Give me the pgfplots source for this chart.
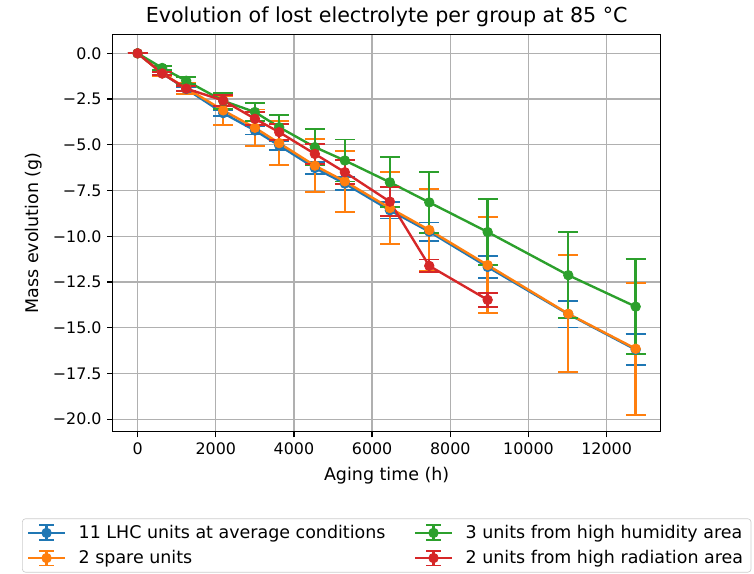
\documentclass[border=0pt]{standalone}
\usepackage{fontspec}
\setmainfont{DejaVu Sans}
\usepackage{pgfplots}
\usepackage{pgfplotstable}
\pgfplotsset{compat=1.18}
\definecolor{cblue}{HTML}{1F77B4}
\definecolor{corange}{HTML}{FF7F0E}
\definecolor{cgreen}{HTML}{2CA02C}
\definecolor{cred}{HTML}{D62728}
\definecolor{gridc}{HTML}{B0B0B0}
\definecolor{legc}{HTML}{CCCCCC}

\pgfplotstableread{
x      y       e
0      0       0
630   -1.10    0.06
1244  -1.95    0.10
2190  -3.27    0.17
3002  -4.22    0.22
3623  -5.04    0.27
4535  -6.27    0.32
5302  -7.12    0.37
6454  -8.58    0.45
7462  -9.75    0.50
8956  -11.68   0.61
11018 -14.26   0.73
12743 -16.20   0.84
}\bluedata
\pgfplotstableread{
x      y       e
0      0       0
630   -1.10    0.15
1244  -1.90    0.30
2190  -3.12    0.80
3002  -4.07    1.00
3623  -4.91    1.22
4535  -6.14    1.46
5302  -7.00    1.67
6454  -8.46    1.97
7462  -9.66    2.25
8956  -11.58   2.63
11018 -14.24   3.20
12743 -16.15   3.60
}\orangedata
\pgfplotstableread{
x      y       e
0      0       0
630   -0.80    0.10
1244  -1.50    0.20
2190  -2.60    0.45
3002  -3.21    0.50
3623  -4.04    0.68
4535  -5.13    0.97
5302  -5.86    1.15
6454  -7.05    1.37
7462  -8.15    1.65
8956  -9.77    1.80
11018 -12.13   2.34
12743 -13.85   2.60
}\greendata
\pgfplotstableread{
x      y       e
0      0       0
630   -1.10    0.10
1244  -1.93    0.15
2190  -2.58    0.30
3002  -3.58    0.35
3623  -4.31    0.45
4535  -5.50    0.55
5302  -6.50    0.65
6454  -8.11    0.80
7462  -11.62   0.35
8956  -13.48   0.40
}\reddata

\pgfplotsset{
  eblegend/.style={
    legend image code/.code={
      \draw[##1,mark=none,line width=1.5pt] (0pt,0pt) -- (23pt,0pt);
      \draw[##1,mark=none,line width=1.5pt] (11.5pt,-4.7pt) -- (11.5pt,4.7pt);
      \draw[##1,mark=none,line width=1.2pt] (6.8pt,-4.7pt) -- (16.2pt,-4.7pt) (6.8pt,4.7pt) -- (16.2pt,4.7pt);
      \draw[##1,only marks] plot coordinates {(11.5pt,0pt)};
    }
  },
  ebstyle/.style={
    eblegend,
    color=#1, mark=*, line width=1.5pt, mark size=3pt,
    mark options={solid, fill=#1, draw=#1, line width=0.5pt},
    error bars/.cd, y dir=both, y explicit,
    error bar style={line width=1.5pt, color=#1},
    error mark options={line width=1.2pt, mark size=6.3pt, color=#1, rotate=90},
    /pgfplots/.cd,
  },
}

\begin{document}
\begin{tikzpicture}
\useasboundingbox (-71pt,-89.6pt) rectangle (404pt,272pt);
\begin{axis}[
  at={(0,0)}, anchor=south west,
  scale only axis, width=345.2pt, height=250.4pt,
  xmin=-637, xmax=13382, ymin=-20.69, ymax=1.04,
  scaled x ticks=false, scaled y ticks=false,
  xtick={0,2000,4000,6000,8000,10000,12000},
  xticklabels={0,2000,4000,6000,8000,10000,12000},
  ytick={-20,-17.5,-15,-12.5,-10,-7.5,-5,-2.5,0},
  yticklabels={−20.0,−17.5,−15.0,−12.5,−10.0,−7.5,−5.0,−2.5,0.0},
  grid=major,
  grid style={color=gridc, line width=0.8pt},
  axis line style={line width=0.8pt},
  tick style={black, line width=0.8pt},
  tick align=outside, major tick length=3.5pt,
  tick pos=left,
  font=\fontsize{10}{12}\selectfont,
  ticklabel style={font=\fontsize{10}{12}\selectfont},
  title={Evolution of lost electrolyte per group at 85 °C},
  title style={font=\fontsize{13}{15}\selectfont, at={(0.5,1)}, anchor=base, yshift=1.4pt},
  xlabel={Aging time (h)},
  ylabel={Mass evolution (g)},
  label style={font=\fontsize{11}{13}\selectfont},
  xlabel style={yshift=-1pt},
  legend columns=2,
  transpose legend,
  legend cell align=left,
  legend style={at={(0.5,-0.218)}, anchor=north, draw=legc, rounded corners=2pt,
    font=\fontsize{11}{13}\selectfont, row sep=2pt,
    /tikz/every odd column/.append style={column sep=6pt},
    /tikz/every even column/.append style={column sep=16pt}},
]
\addplot[ebstyle=cblue] table[x=x, y=y, y error=e] {\bluedata};
\addlegendentry{11 LHC units at average conditions}
\addplot[ebstyle=corange] table[x=x, y=y, y error=e] {\orangedata};
\addlegendentry{2 spare units}
\addplot[ebstyle=cgreen] table[x=x, y=y, y error=e] {\greendata};
\addlegendentry{3 units from high humidity area}
\addplot[ebstyle=cred] table[x=x, y=y, y error=e] {\reddata};
\addlegendentry{2 units from high radiation area}
\end{axis}
\end{tikzpicture}
\end{document}
